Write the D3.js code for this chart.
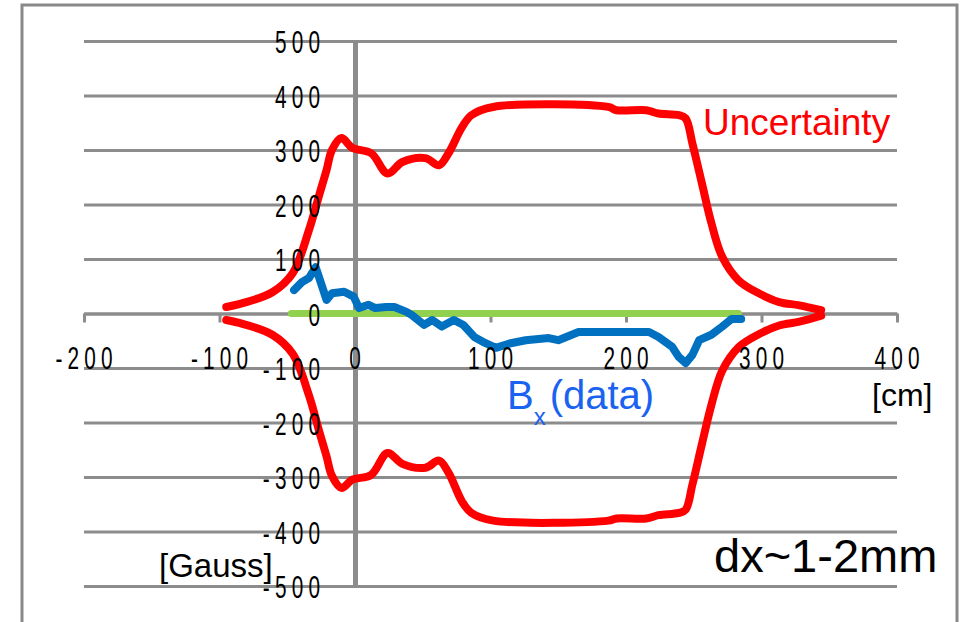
<!DOCTYPE html>
<html>
<head>
<meta charset="utf-8">
<script src="https://cdn.jsdelivr.net/npm/d3@7"></script>
<style>
  body { margin: 0; background: #fff; }
  svg { display: block; }
  .lbl text { font-family: "Liberation Sans", Arial, sans-serif; font-size: 32px; letter-spacing: 8px; fill: #000; }
  .note { font-family: "Liberation Sans", Arial, sans-serif; }
</style>
</head>
<body>
<svg></svg>
<script>
const xTicks = [-200, -100, 0, 100, 200, 300, 400];
const yTicks = [-500, -400, -300, -200, -100, 0, 100, 200, 300, 400, 500];

// uncertainty band (upper / lower edge), x in cm, value in Gauss
const uncX   = [-95, -83, -61, -46, -34, -26, -21, -17, -10, -2, 12, 24, 35, 52, 62, 69, 79, 86, 102, 187, 193, 215, 224, 239, 244, 249, 256, 263, 271, 283, 298, 313, 328, 344];
const uncUp  = [12, 19, 39, 74, 153, 221, 263, 300, 322, 304, 294, 257, 278, 285, 272, 294, 342, 364, 379, 379, 373, 373, 367, 364, 358, 312, 239, 166, 104, 61, 37, 21, 15, 6];
const uncLow = [-12, -19, -39, -74, -150, -220, -262, -298, -320, -305, -296, -256, -276, -283, -270, -292, -345, -366, -380, -380, -376, -376, -370, -366, -360, -314, -240, -168, -105, -62, -38, -22, -15, -4];

// measured Bx
const bxX = [-45, -39, -34, -29, -21, -17, -8, -1, 3, 10, 15, 23, 29, 38, 42, 51, 57, 64, 73, 80, 88, 96, 104, 114, 126, 143, 150, 165, 182, 200, 217, 224, 234, 239, 244, 249, 254, 263, 271, 278, 285];
const bxY = [43, 58, 65, 85, 25, 37, 40, 31, 10, 16, 10, 12, 12, 3, -3, -21, -12, -24, -12, -21, -43, -54, -63, -55, -49, -45, -49, -34, -34, -34, -34, -43, -61, -80, -91, -76, -49, -39, -24, -10, -10];

// zero reference
const refX = [-47, 283];
const refY = [0, 0];

const W = 964, H = 622;
const gray = "#8c8c8c";
const squeeze = 0.65; // tick labels are drawn condensed

const svg = d3.select("svg").attr("width", W).attr("height", H);

const x = d3.scaleLinear().domain([-200, 400]).range([84, 897]);
const y = d3.scaleLinear().domain([-500, 500]).range([586, 41]);

// frame
svg.append("rect")
    .attr("x", 22).attr("y", 5)
    .attr("width", 935).attr("height", 660)
    .attr("fill", "none").attr("stroke", "#898989").attr("stroke-width", 3);

// gridlines
const grid = svg.append("g")
    .attr("transform", "translate(" + x(-200) + ",0)")
    .call(d3.axisLeft(y).tickValues(yTicks).tickSize(-(x(400) - x(-200))).tickFormat(""));
grid.select(".domain").remove();
grid.selectAll("line").attr("stroke", gray).attr("stroke-width", 3);

// horizontal axis line + ticks
const xAxis = svg.append("g")
    .attr("transform", "translate(0," + y(0) + ")")
    .call(d3.axisBottom(x).tickValues(xTicks).tickSizeInner(9).tickSizeOuter(0).tickFormat(""));
xAxis.select(".domain").attr("stroke", gray).attr("stroke-width", 3);
xAxis.selectAll("line").attr("stroke", gray).attr("stroke-width", 3);

// vertical axis line
const yAxis = svg.append("g")
    .attr("transform", "translate(" + x(0) + ",0)")
    .call(d3.axisLeft(y).tickValues(yTicks).tickSize(0).tickFormat(""));
yAxis.select(".domain").attr("stroke", gray).attr("stroke-width", 5);

// series
const line = (xs, ys, curve) => d3.line()
    .x((d, i) => x(xs[i]))
    .y(d => y(d))
    .curve(curve)(ys);

svg.append("path")
    .attr("d", line(refX, refY, d3.curveLinear))
    .attr("fill", "none").attr("stroke", "#92d050").attr("stroke-width", 7)
    .attr("stroke-linecap", "round");

svg.append("path")
    .attr("d", line(bxX, bxY, d3.curveLinear))
    .attr("fill", "none").attr("stroke", "#0070c0").attr("stroke-width", 8)
    .attr("stroke-linecap", "round").attr("stroke-linejoin", "round");

[uncUp, uncLow].forEach(ys => {
  svg.append("path")
      .attr("d", line(uncX, ys, d3.curveCatmullRom.alpha(0.5)))
      .attr("fill", "none").attr("stroke", "#ff0000").attr("stroke-width", 8)
      .attr("stroke-linecap", "round").attr("stroke-linejoin", "round");
});

// tick labels on top, plain hyphen minus, condensed
const plain = d => String(d);

const yLab = svg.append("g").attr("class", "lbl")
    .attr("transform", "translate(" + x(0) + ",0)")
    .call(d3.axisLeft(y).tickValues(yTicks).tickSize(0).tickFormat(plain));
yLab.select(".domain").remove();
yLab.selectAll("text")
    .attr("x", -29.8 / squeeze)
    .attr("dy", "0.36em")
    .attr("transform", "scale(" + squeeze + ",1)");

const xLab = svg.append("g").attr("class", "lbl")
    .attr("transform", "translate(0," + y(0) + ")")
    .call(d3.axisBottom(x).tickValues(xTicks).tickSize(0).tickFormat(plain));
xLab.select(".domain").remove();
xLab.selectAll(".tick").each(function(d) {
  d3.select(this).attr("transform", "translate(" + x(d) + ",0) scale(" + squeeze + ",1)");
});
xLab.selectAll("text").attr("y", 56).attr("dy", 0).attr("x", 2.6 / squeeze);

// annotations
svg.append("text").attr("class", "note")
    .attr("x", 703).attr("y", 135)
    .attr("font-size", 37).attr("fill", "#ff0000")
    .text("Uncertainty");

const bx = svg.append("text").attr("class", "note")
    .attr("x", 507).attr("y", 409)
    .attr("font-size", 40).attr("fill", "#1a62f0");
bx.append("tspan").text("B");
bx.append("tspan").attr("font-size", 24).attr("dy", 16).text("x");
bx.append("tspan").attr("dy", -16).attr("dx", 4).text("(data)");

svg.append("text").attr("class", "note")
    .attr("x", 872).attr("y", 406)
    .attr("font-size", 32).attr("fill", "#000")
    .text("[cm]");

svg.append("text").attr("class", "note")
    .attr("x", 159).attr("y", 577)
    .attr("font-size", 33).attr("fill", "#000")
    .text("[Gauss]");

svg.append("text").attr("class", "note")
    .attr("x", 714).attr("y", 572)
    .attr("font-size", 47).attr("fill", "#000")
    .text("dx~1-2mm");
</script>
</body>
</html>
